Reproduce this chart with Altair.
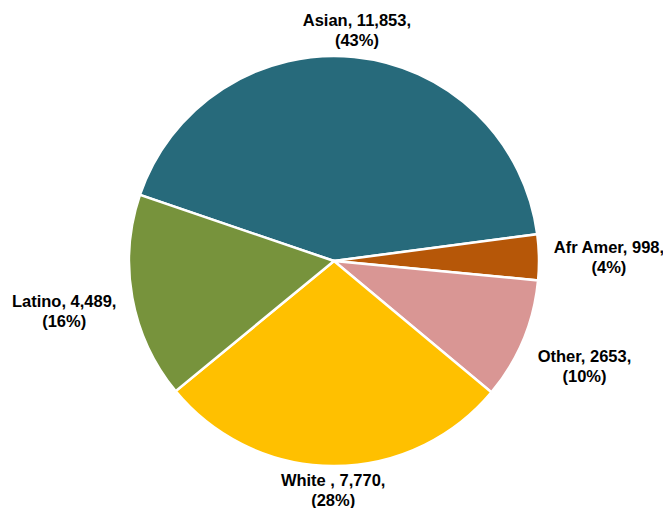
import math
import altair as alt
import pandas as pd

categories = ["Asian", "Afr Amer", "Other", "White", "Latino"]
values = [11853, 998, 2653, 7770, 4489]
value_labels = ["11,853", "998", "2653", "7,770", "4,489"]
name_labels = ["Asian", "Afr Amer", "Other", "White ", "Latino"]
colors = ["#276A7B", "#B65708", "#D99694", "#FFC000", "#77933C"]

total = sum(values)
start = math.radians(-71.2)

rows = []
cum = 0
for i, (c, v, vl, nl) in enumerate(zip(categories, values, value_labels, name_labels)):
    t0 = cum
    t1 = cum + v
    tm = (t0 + t1) / 2
    mid = start + 2 * math.pi * tm / total
    cum = t1
    pct = round(100 * v / total)
    rows.append({
        "cat": c,
        "value": v,
        "t0": t0,
        "t1": t1,
        "tm": tm,
        "label": f"{nl}, {vl},\n({pct}%)",
        "lr": 228 + 47 * abs(math.sin(mid)),
    })
df = pd.DataFrame(rows)

cx, cy = 326, 253
theta_scale = alt.Scale(domain=[0, total], range=[start, start + 2 * math.pi])

pie = alt.Chart(df).mark_arc(outerRadius=205, stroke="white", strokeWidth=2.5).encode(
    theta=alt.Theta("t0:Q", scale=theta_scale),
    theta2="t1:Q",
    x=alt.value(cx),
    y=alt.value(cy),
    color=alt.Color("cat:N", scale=alt.Scale(domain=categories, range=colors), legend=None),
)

text = alt.Chart(df).mark_text(
    font="Liberation Sans", fontWeight="bold", fontSize=16.5,
    lineBreak="\n", lineHeight=20, align="center", baseline="middle", color="black",
    dy=-8.5,
).encode(
    theta=alt.Theta("tm:Q", scale=theta_scale),
    x=alt.value(cx),
    y=alt.value(cy),
    text="label:N",
    radius=alt.Radius("lr:Q", scale=None),
)

chart = (pie + text).properties(
    width=655, height=500,
    autosize=alt.AutoSizeParams(type="none"),
    padding=0,
).configure_view(stroke=None)

chart.save("out.html", embed_options={"renderer": "svg", "actions": False})
